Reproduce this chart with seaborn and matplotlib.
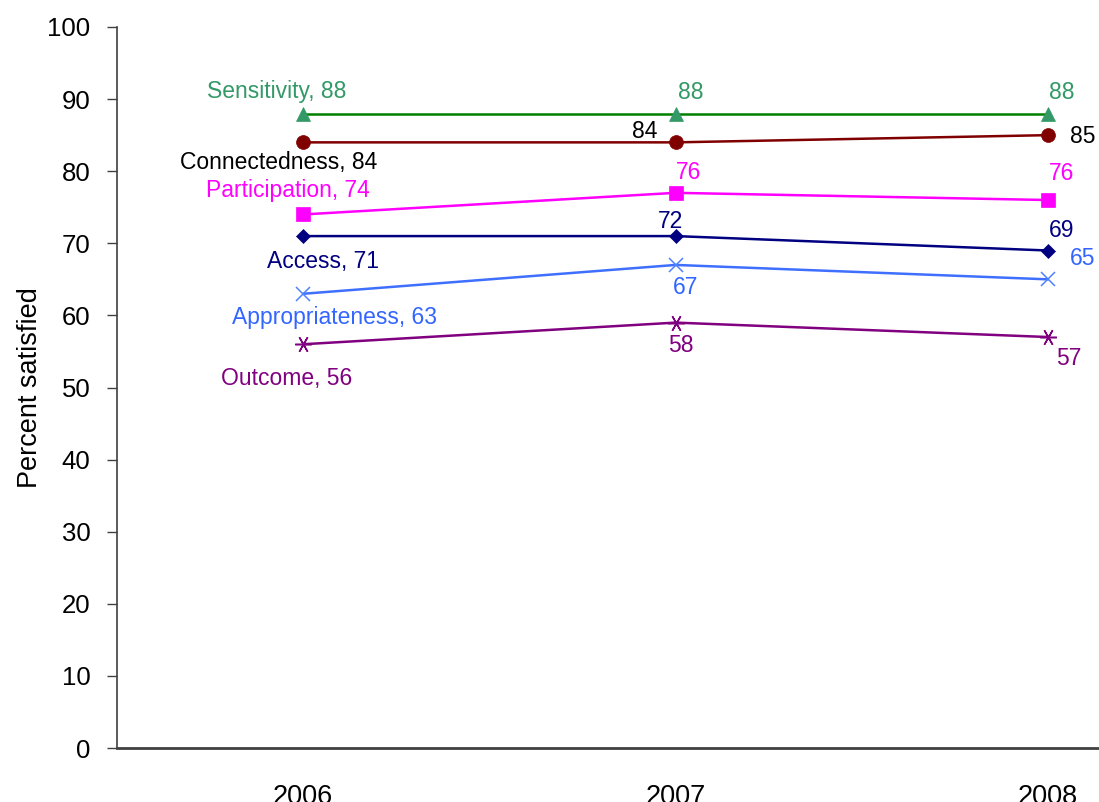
import matplotlib
matplotlib.use("Agg")
import matplotlib.pyplot as plt
import seaborn as sns
import pandas as pd

years = ["2006", "2007", "2008"]
series = ["Sensitivity", "Connectedness", "Participation", "Access", "Appropriateness", "Outcome"]
sensitivity = [88, 88, 88]
connectedness = [84, 84, 85]
participation = [74, 77, 76]
access = [71, 71, 69]
appropriateness = [63, 67, 65]
outcome = [56, 59, 57]
# data labels as printed on the chart
sensitivity_lbl = ["Sensitivity, 88", "88", "88"]
connectedness_lbl = ["Connectedness, 84", "84", "85"]
participation_lbl = ["Participation, 74", "76", "76"]
access_lbl = ["Access, 71", "72", "69"]
appropriateness_lbl = ["Appropriateness, 63", "67", "65"]
outcome_lbl = ["Outcome, 56", "58", "57"]

values = [sensitivity, connectedness, participation, access, appropriateness, outcome]
labels = [sensitivity_lbl, connectedness_lbl, participation_lbl, access_lbl, appropriateness_lbl, outcome_lbl]

# styles
line_colors = ["#008000", "#800000", "#FF00FF", "#000080", "#3F6FFF", "#800080"]
marker_colors = ["#339966", "#800000", "#FF00FF", "#000080", "#4F81FF", "#800080"]
text_colors = ["#339966", "#000000", "#FF00FF", "#000080", "#3366FF", "#800080"]
markers = ["^", "o", "s", "D", "x", (6, 2, 90)]
msizes = [10, 10, 10, 7, 10, 12]
# label offsets in pixels (dx, dy)
offsets = [
    [(-27, 22), (15, 21), (14, 21)],
    [(-25, -20), (-31, 11), (35, -1)],
    [(-15, 24), (13, 20), (14, 27)],
    [(20, -25), (-5, 15), (14, 20)],
    [(31, -24), (10, -23), (35, 21)],
    [(-17, -34), (5, -23), (21, -21)],
]

sns.set_theme(style="white")
plt.rcParams["font.family"] = ["Liberation Sans", "DejaVu Sans"]

fig = plt.figure(figsize=(10.99, 8.02), dpi=100)
ax = fig.add_axes([117 / 1099, 1 - 748 / 802, 1 - 117 / 1099, (748 - 27) / 802])

for i, name in enumerate(series):
    df = pd.DataFrame({"x": range(len(years)), "y": values[i]})
    sns.lineplot(data=df, x="x", y="y", ax=ax, color=line_colors[i], linewidth=1.8,
                 marker=markers[i], markersize=msizes[i],
                 markerfacecolor=marker_colors[i], markeredgecolor=marker_colors[i],
                 markeredgewidth=1.1 if i >= 4 else 0.5)
    for j in range(len(years)):
        ax.annotate(labels[i][j], (j, values[i][j]), xytext=offsets[i][j],
                    textcoords="offset pixels", ha="center", va="center",
                    fontsize=16.5, color=text_colors[i])

ax.set_xlim(-0.5, 2.137)
ax.set_ylim(0, 100)
ax.set_yticks(range(0, 101, 10))
ax.set_xticks(range(len(years)))
ax.set_xticklabels(years)
ax.set_xlabel("")
ax.set_ylabel("Percent satisfied", fontsize=19.5, labelpad=3, color="black")
ax.tick_params(axis="y", which="both", left=True, length=7, width=1, color="#404040",
               labelsize=18.5, pad=12, labelcolor="black")
ax.tick_params(axis="x", bottom=False, labelsize=19.5, pad=20, labelcolor="black")
for s in ["top", "right"]:
    ax.spines[s].set_visible(False)
ax.spines["left"].set_color("#404040")
ax.spines["left"].set_linewidth(1.2)
ax.spines["bottom"].set_color("#404040")
ax.spines["bottom"].set_linewidth(2)
ax.grid(False)

fig.savefig("out.png", dpi=100)
